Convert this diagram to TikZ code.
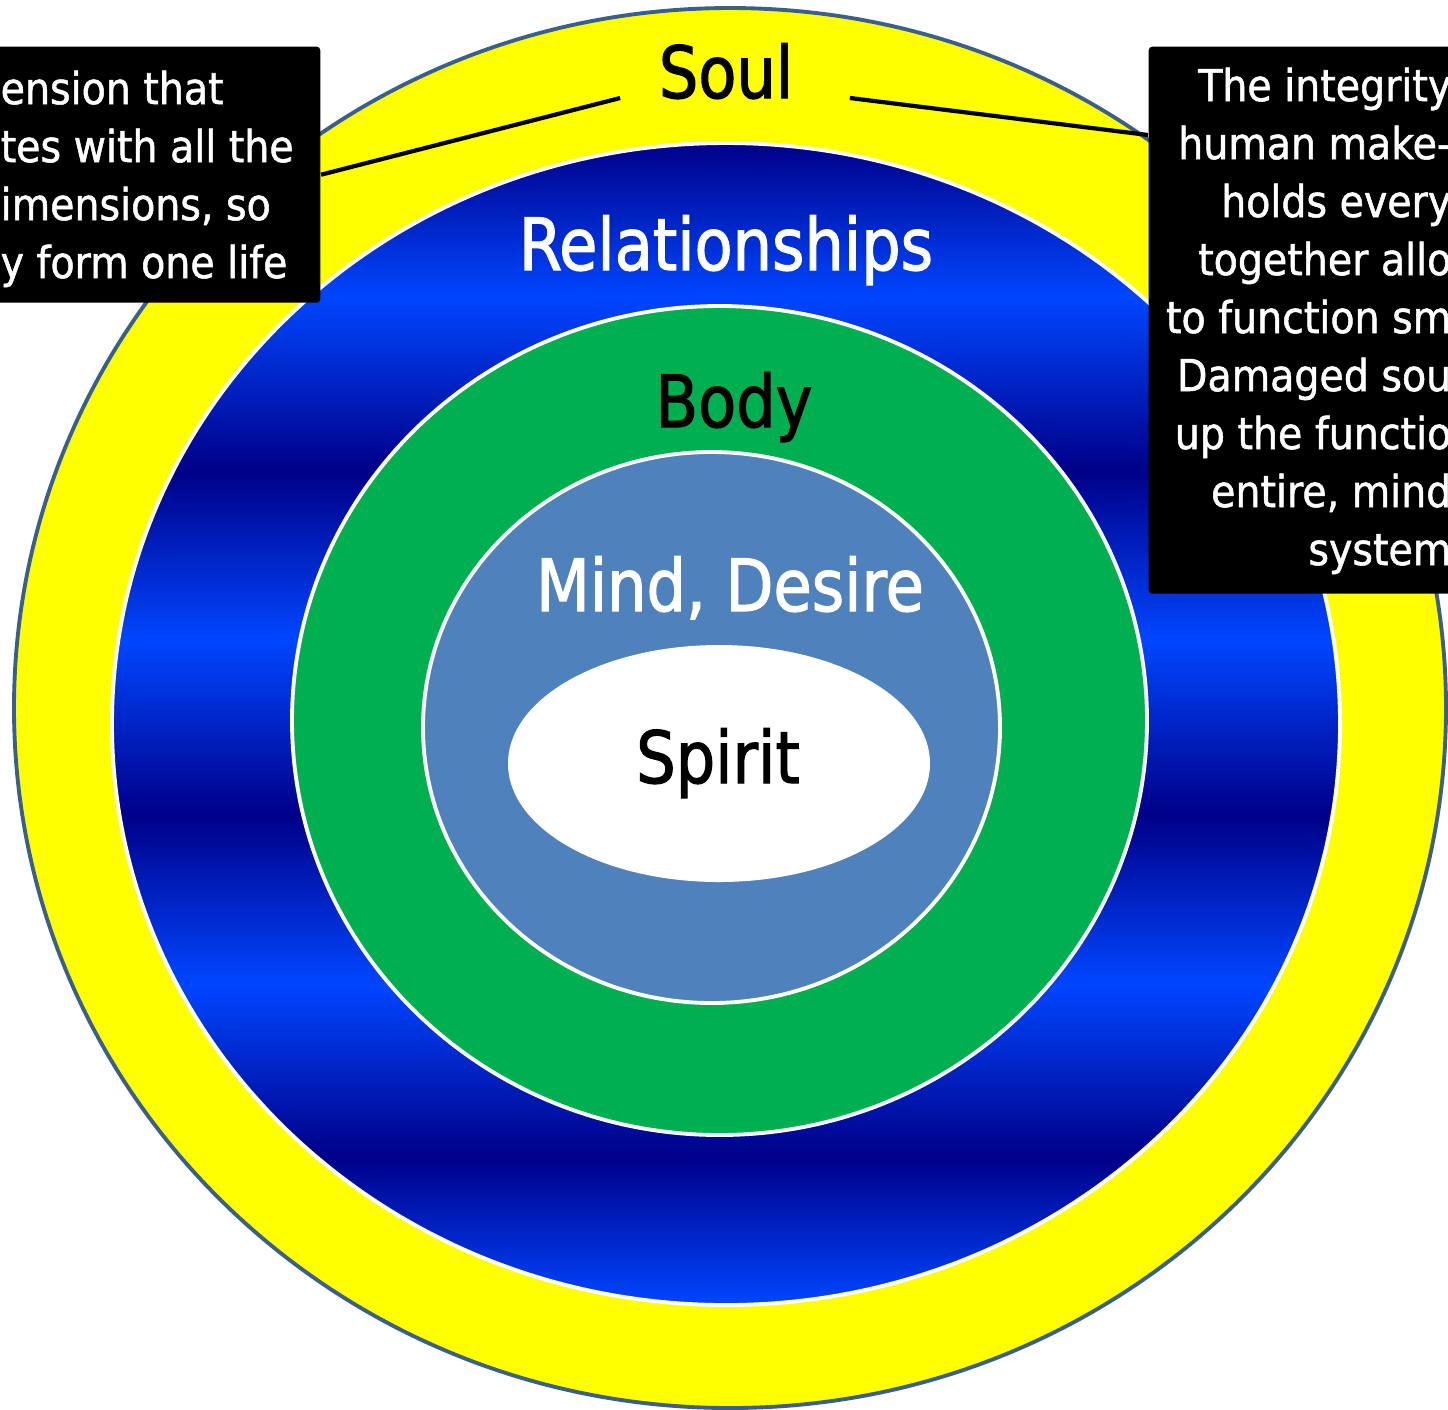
\documentclass[tikz,border=0pt]{standalone}
\usepackage{fontspec}
\setmainfont{DejaVu Sans Condensed}[FakeBold=1.2]
\newfontfamily\labelfont{DejaVu Sans Condensed}[FakeStretch=0.96, FakeBold=1.6]
\usepackage{xcolor}
\definecolor{SOULCOLOR}{HTML}{FFFF00}
\definecolor{RIMCOLOR}{HTML}{3A5F8C}
\definecolor{DARKBAND}{HTML}{000088}
\definecolor{LIGHTBAND}{HTML}{0046FF}
\definecolor{BODYCOLOR}{HTML}{00B050}
\definecolor{MINDCOLOR}{HTML}{4F81BD}
\usepackage{tikz}
\usetikzlibrary{calc}
\pgfdeclareverticalshading{band-shade}{100bp}{
  color(0bp)=(LIGHTBAND); color(25bp)=(LIGHTBAND);
  color(31.4bp)=(DARKBAND); color(38.8bp)=(LIGHTBAND);
  color(46.1bp)=(DARKBAND); color(53.6bp)=(LIGHTBAND);
  color(60.9bp)=(DARKBAND); color(68.4bp)=(LIGHTBAND);
  color(75bp)=(DARKBAND); color(100bp)=(DARKBAND)}
\tikzset{
  soul-style/.style = {
    fill=SOULCOLOR, draw=RIMCOLOR, line width=1.1pt
  },
  ring-style/.style = {
    fill=#1, draw=white, line width=1.1pt
  },
  band-style/.style = {
    ring-style=DARKBAND, shading=band-shade
  },
  label-style/.style = {
    anchor=base, inner sep=0pt, text=#1,
    font=\labelfont\fontsize{20.5}{24}\selectfont
  },
  label-style/.default = black,
  note-style/.style = {
    fill=black, rounded corners=1pt, inner sep=0pt
  },
  note-text/.style = {
    text=white, inner sep=0pt,
    font=\fontsize{12.5}{16.5}\selectfont
  },
  link-style/.style = {draw=black, line width=1.2pt}
}
\def\createRing style:#1 at:#2 radii:#3/#4;{
  \path[#1] #2 ellipse [x radius=#3, y radius=#4];
}
\begin{document}
\begin{tikzpicture}[x=0.1mm, y=-0.1mm]
    \clip (0,0) rectangle (1448,1409);
    \createRing style:{soul-style} at:(730,708) radii:716/700;
    \createRing style:{band-style} at:(726,724) radii:614/581;
    \createRing style:{ring-style=BODYCOLOR} at:(719.5,720.5) radii:427.5/414.5;
    \createRing style:{ring-style=MINDCOLOR} at:(711.5,727.5) radii:288.5/275.5;
    \path[fill=white] (719,763.5) ellipse [x radius=211, y radius=118.5];

    \node[label-style] (soul) at (726,98) {Soul};
    \node[label-style=white] (relations) at (726,270) {Relationships};
    \node[label-style] (body) at (734,427) {Body};
    \node[label-style=white] (mind) at (730,611) {Mind, Desire};
    \node[label-style] (spirit) at (718,783) {Spirit};

    \node[note-style, minimum width=40mm, minimum height=25.6mm, anchor=north east] (leftnote) at (321,46) {};
    \node[note-text, align=left, anchor=north west] (lefttext) at (0,70)
      {ension that\\tes with all the\\imensions, so\\y form one life};
    \node[note-style, minimum width=40mm, minimum height=54.7mm, anchor=north west] (rightnote) at (1148,46) {};
    \node[note-text, align=right, anchor=north east] (righttext) at (1452,67)
      {The integrity\\human make-\\holds every\\together allo\\to function sm\\Damaged sou\\up the functio\\entire, mind\\system};

    \path[link-style] (leftnote.east) -- ($(soul.base west)+(-38,0)$);
    \path[link-style] ($(soul.base east)+(56,0)$) -- ($(rightnote.north west)+(0,89)$);
\end{tikzpicture}
\end{document}
